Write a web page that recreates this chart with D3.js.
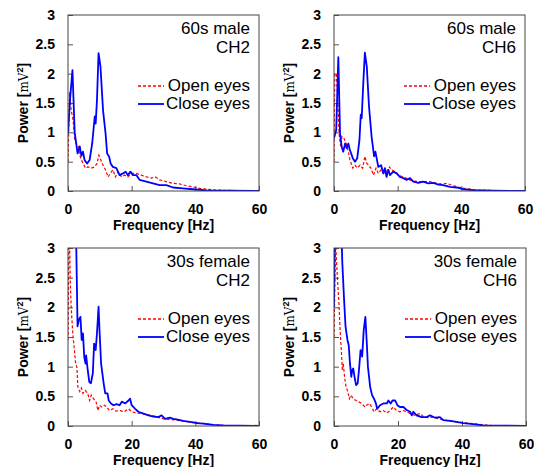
<!DOCTYPE html>
<html>
<head>
<meta charset="utf-8">
<script src="https://cdn.jsdelivr.net/npm/d3@7"></script>
<style>
  body { margin: 0; background: #fff; }
  svg { display: block; }
  text { font-family: "Liberation Sans", Arial, sans-serif; }
</style>
</head>
<body>
<svg id="chart" width="534" height="467"></svg>
<script>
// tick values
const xTicks = [0, 20, 40, 60];
const yTicks = [0, 0.5, 1, 1.5, 2, 2.5, 3];
const seriesNames = ["Open eyes", "Close eyes"];

// [frequency Hz, power]
const male60ch2Open = [[0,0.5],[0.5,1.69],[1,1.38],[1.6,1.21],[2.1,0.87],[2.6,0.81],[3.2,0.76],[3.7,0.61],[4.2,0.53],[4.7,0.47],[5.5,0.39],[6.3,0.41],[7.3,0.39],[8.4,0.41],[9.1,0.47],[9.7,0.61],[10.3,0.53],[11,0.44],[11.8,0.36],[12.6,0.24],[13.3,0.3],[14.1,0.36],[14.9,0.24],[15.7,0.33],[16.8,0.24],[17.8,0.27],[18.8,0.24],[19.9,0.3],[21.5,0.3],[23,0.27],[24.6,0.24],[26.2,0.22],[27.4,0.24],[28.8,0.19],[30.9,0.16],[33,0.13],[35,0.12],[37.2,0.09],[39.3,0.07],[41.4,0.045],[43.5,0.03],[46.6,0.017],[50,0.01],[60,0.005]];
const male60ch2Close = [[0,0.98],[0.7,1.6],[1.4,2.06],[2.1,1.0],[2.6,0.8],[3,0.64],[3.7,0.76],[4.2,0.6],[4.7,0.67],[5.2,0.53],[6,0.47],[6.8,0.53],[7.6,0.81],[8.4,1.27],[8.7,1.15],[9.1,1.55],[9.6,2.35],[10.2,2.12],[11,1.38],[11.8,0.98],[12.3,0.64],[12.9,0.59],[13.4,0.47],[14.1,0.41],[15.2,0.39],[16.2,0.27],[17.3,0.3],[18.1,0.33],[18.8,0.27],[19.6,0.33],[20.4,0.27],[21.5,0.27],[22.5,0.19],[24.6,0.16],[26.7,0.13],[28.8,0.1],[30.9,0.1],[33,0.06],[36,0.045],[39.3,0.03],[43.5,0.01],[50,0.005],[60,0]];

const male60ch6Open = [[0,0.5],[0.25,2.0],[0.75,2.0],[1.15,1.55],[1.6,0.98],[2.1,0.76],[2.5,0.93],[3.1,0.9],[3.8,0.81],[4.5,0.67],[5,0.53],[5.9,0.39],[6.6,0.44],[7.3,0.39],[8.2,0.44],[9,0.39],[9.7,0.59],[10.3,0.47],[10.9,0.44],[11.6,0.39],[12.4,0.27],[13.2,0.39],[13.9,0.3],[14.8,0.36],[15.5,0.3],[16.5,0.33],[17.4,0.41],[18.1,0.36],[19.2,0.33],[20.2,0.27],[21.8,0.24],[23.3,0.2],[24.9,0.17],[26.5,0.16],[28,0.16],[30,0.16],[32.3,0.13],[33.8,0.12],[35.4,0.13],[37.5,0.09],[39.6,0.06],[41.7,0.04],[44.8,0.017],[50,0.008],[60,0.005]];
const male60ch6Close = [[0,0.9],[0.7,1.04],[1.36,2.28],[1.9,0.98],[2.4,0.76],[2.9,0.67],[3.5,0.81],[4,0.73],[4.5,0.81],[5,0.7],[5.9,0.56],[6.6,0.5],[7.3,0.56],[8,0.87],[8.4,1.3],[8.7,1.24],[9.2,1.84],[9.7,2.36],[10.3,2.12],[11,1.44],[11.8,0.93],[12.6,0.59],[13,0.67],[13.4,0.56],[13.9,0.41],[14.8,0.44],[15.5,0.3],[16,0.39],[16.5,0.24],[17.1,0.36],[17.6,0.27],[18.6,0.33],[19.7,0.3],[20.7,0.24],[21.8,0.22],[22.8,0.19],[23.9,0.22],[24.9,0.16],[26.5,0.14],[28,0.16],[29.6,0.13],[31.2,0.14],[32.8,0.11],[34.3,0.1],[36.4,0.07],[38.5,0.06],[40.6,0.03],[43.8,0.015],[50,0.005],[60,0]];

const female30ch2Open = [[0,1.45],[0.3,3.3],[0.5,3.1],[0.7,2.46],[1,2.0],[1.5,1.56],[2,1.28],[2.4,1.05],[2.8,0.99],[3.1,0.66],[3.7,0.58],[4.2,0.64],[4.7,0.55],[5.4,0.6],[6.2,0.55],[6.8,0.43],[7.3,0.52],[8,0.46],[8.8,0.41],[9.4,0.26],[9.9,0.35],[10.6,0.32],[11.4,0.35],[12.2,0.32],[13,0.26],[14.1,0.29],[15.1,0.25],[16.4,0.26],[17.6,0.24],[19,0.29],[20,0.24],[21.6,0.22],[23.2,0.21],[24.7,0.19],[26.3,0.18],[27.9,0.15],[30,0.12],[32,0.11],[34.1,0.1],[36.2,0.08],[38.3,0.07],[41.4,0.05],[44.6,0.03],[47.7,0.01],[60,0.003]];
const female30ch2Close = [[0,4.5],[1,5.0],[2,3.8],[2.6,3.0],[3,1.68],[3.4,1.79],[3.9,1.84],[4.3,1.45],[4.7,1.56],[5.1,1.17],[5.5,1.05],[5.7,1.19],[6.2,0.94],[6.7,0.74],[7.2,0.72],[7.8,0.89],[8.2,1.39],[8.7,1.28],[9.1,1.56],[9.6,2.01],[9.9,1.61],[10.4,1.05],[11.2,0.72],[11.7,0.55],[12.4,0.55],[12.8,0.43],[13.5,0.38],[14.3,0.35],[15.3,0.37],[16.2,0.35],[16.9,0.41],[18,0.38],[19,0.43],[19.5,0.46],[20,0.35],[21.1,0.29],[22.1,0.24],[23.7,0.21],[25.3,0.18],[26.8,0.16],[28.4,0.15],[29.4,0.18],[30.5,0.12],[32,0.14],[33.1,0.12],[34.1,0.11],[36.2,0.085],[38.3,0.07],[40.4,0.05],[42.5,0.04],[45.6,0.02],[48.7,0.01],[60,0.003]];

const female30ch6Open = [[0,1.5],[0.5,3.1],[0.8,2.75],[1.1,2.46],[1.6,2.01],[1.9,1.62],[2.3,1.28],[2.6,0.94],[2.9,1.05],[3.3,0.83],[3.75,0.66],[4.3,0.58],[4.8,0.46],[5.3,0.52],[6,0.46],[6.9,0.43],[7.6,0.41],[8.6,0.38],[9.7,0.32],[10.2,0.35],[11,0.38],[11.8,0.32],[12.5,0.24],[13.3,0.29],[14.4,0.24],[15.4,0.26],[16.5,0.22],[17.5,0.26],[18.5,0.32],[19.6,0.26],[20.6,0.24],[21.7,0.26],[22.7,0.24],[23.8,0.21],[25.3,0.18],[26.9,0.21],[27.9,0.16],[29.5,0.14],[31,0.15],[32.6,0.12],[34.2,0.1],[36.3,0.085],[38.3,0.07],[40.4,0.055],[43.5,0.04],[46.7,0.02],[49.8,0.005],[60,0.003]];
const female30ch6Close = [[0,2.0],[0.3,3.5],[1.3,3.4],[2.4,3.1],[2.6,2.75],[3.1,2.18],[3.6,1.68],[4.2,1.45],[4.6,1.36],[5,1.05],[5.4,0.83],[5.7,0.94],[6,0.97],[6.5,0.8],[6.9,0.69],[7.4,0.72],[7.8,0.94],[8.3,1.28],[8.8,1.17],[9.3,1.62],[9.8,1.84],[10.2,1.45],[10.6,1.0],[11.3,0.66],[11.9,0.52],[12.5,0.46],[13.1,0.38],[13.5,0.29],[14.4,0.35],[15.4,0.38],[16.5,0.38],[17,0.43],[17.7,0.38],[18.3,0.43],[19.1,0.43],[19.8,0.35],[20.6,0.32],[21.7,0.32],[22.7,0.27],[23.8,0.24],[24.3,0.18],[24.8,0.24],[25.8,0.18],[27.4,0.15],[29,0.15],[30,0.18],[31.6,0.14],[33.1,0.15],[34.2,0.1],[36.3,0.085],[38.3,0.07],[40.4,0.05],[43.5,0.03],[46.7,0.01],[60,0.003]];

const panels = [
  { x0: 68, x1: 259, y0: 15, y1: 191, title: ["60s male", "CH2"], open: male60ch2Open, close: male60ch2Close, ylab: 23 },
  { x0: 334, x1: 525, y0: 15, y1: 191, title: ["60s male", "CH6"], open: male60ch6Open, close: male60ch6Close, ylab: 289 },
  { x0: 68, x1: 259, y0: 248, y1: 426, title: ["30s female", "CH2"], open: female30ch2Open, close: female30ch2Close, ylab: 23 },
  { x0: 334, x1: 526, y0: 248, y1: 426, title: ["30s female", "CH6"], open: female30ch6Open, close: female30ch6Close, ylab: 289 }
];

const svg = d3.select("#chart");

panels.forEach((p, i) => {
  const x = d3.scaleLinear().domain([0, 60]).range([p.x0, p.x1]);
  const y = d3.scaleLinear().domain([0, 3]).range([p.y1, p.y0]);

  const g = svg.append("g");

  g.append("clipPath").attr("id", "clip" + i)
    .append("rect")
    .attr("x", p.x0).attr("y", p.y0)
    .attr("width", p.x1 - p.x0).attr("height", p.y1 - p.y0);

  // inward ticks
  g.append("g")
    .attr("transform", "translate(0," + p.y1 + ")")
    .call(d3.axisBottom(x).tickValues(xTicks).tickSizeInner(-5).tickSizeOuter(0).tickPadding(13))
    .call(a => a.select(".domain").remove());
  g.append("g")
    .attr("transform", "translate(" + p.x0 + ",0)")
    .call(d3.axisLeft(y).tickValues(yTicks).tickSizeInner(-5).tickSizeOuter(0).tickPadding(13).tickFormat(d3.format("")))
    .call(a => a.select(".domain").remove());

  g.selectAll(".tick line").attr("stroke", "#555");
  g.selectAll(".tick text")
    .attr("font-family", "Liberation Sans, Arial, sans-serif")
    .attr("font-size", 14).attr("font-weight", "bold").attr("fill", "#000");

  const line = d3.line().x(d => x(d[0])).y(d => y(d[1]));

  const lines = g.append("g").attr("clip-path", "url(#clip" + i + ")");
  lines.append("path").datum(p.open)
    .attr("d", line).attr("fill", "none")
    .attr("stroke", "#ff0000").attr("stroke-width", 1.2)
    .attr("stroke-dasharray", "3,2");
  lines.append("path").datum(p.close)
    .attr("d", line).attr("fill", "none")
    .attr("stroke", "#0000ff").attr("stroke-width", 1.8)
    .attr("stroke-linejoin", "round");

  // frame
  g.append("rect")
    .attr("x", p.x0).attr("y", p.y0)
    .attr("width", p.x1 - p.x0).attr("height", p.y1 - p.y0)
    .attr("fill", "none").attr("stroke", "#444").attr("stroke-width", 1);

  // title
  const tx = p.x1 - 9;
  p.title.forEach((t, k) => {
    g.append("text").attr("x", tx).attr("y", p.y0 + 19 + k * 19)
      .attr("text-anchor", "end").attr("font-size", 17).text(t);
  });

  // legend
  const styles = [
    { stroke: "#ff0000", w: 1.3, dash: "3,2" },
    { stroke: "#0000ff", w: 1.8, dash: null }
  ];
  seriesNames.forEach((name, k) => {
    const by = p.y0 + 75.5 + k * 18.5;
    const ly = Math.round(by - 5);
    g.append("line")
      .attr("x1", tx - 112).attr("x2", tx - 86)
      .attr("y1", ly).attr("y2", ly)
      .attr("stroke", styles[k].stroke).attr("stroke-width", styles[k].w)
      .attr("stroke-dasharray", styles[k].dash);
    g.append("text").attr("x", tx).attr("y", by)
      .attr("text-anchor", "end").attr("font-size", 17).text(name);
  });

  // axis labels
  g.append("text")
    .attr("x", (p.x0 + p.x1) / 2).attr("y", p.y1 + 39)
    .attr("text-anchor", "middle").attr("font-size", 14).attr("font-weight", "bold")
    .text("Frequency [Hz]");
  const yl = g.append("text")
    .attr("transform", "translate(" + (p.ylab + 5) + "," + ((p.y0 + p.y1) / 2) + ") rotate(-90)")
    .attr("text-anchor", "middle").attr("font-size", 14).attr("font-weight", "bold");
  yl.append("tspan").text("Power [");
  yl.append("tspan").attr("font-weight", "normal").attr("font-family", "DejaVu Serif, serif").attr("font-size", 12).text("mV");
  yl.append("tspan").attr("font-size", 9).attr("dy", -5).text("2");
  yl.append("tspan").attr("dy", 5).text("]");
});
</script>
</body>
</html>
